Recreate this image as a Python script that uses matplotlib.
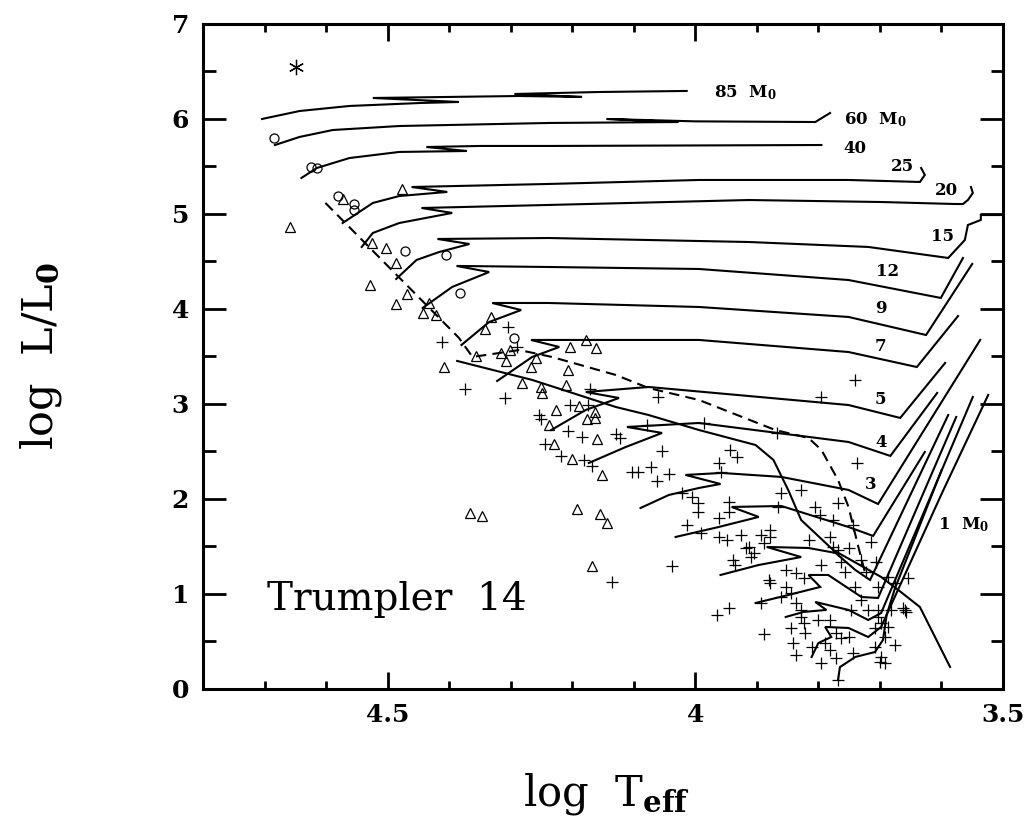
import matplotlib
matplotlib.use('Agg')
import matplotlib.pyplot as plt
from matplotlib.ticker import MultipleLocator

plt.rcParams['font.family'] = 'DejaVu Serif'
plt.rcParams['mathtext.fontset'] = 'dejavuserif'

# evolutionary tracks (log Teff, log L)
t85_x = [4.704, 4.643, 4.562, 4.448, 4.384, 4.524, 4.400, 4.286, 4.184, 4.294, 4.157, 4.014]
t85_y = [6.000, 6.084, 6.137, 6.168, 6.179, 6.221, 6.232, 6.242, 6.232, 6.263, 6.284, 6.295]
t60_x = [4.683, 4.643, 4.589, 4.481, 4.238, 4.027, 4.144, 4.000, 3.805, 3.781]
t60_y = [5.726, 5.811, 5.884, 5.926, 5.958, 5.968, 6.000, 5.975, 5.968, 6.063]
t40_x = [4.640, 4.615, 4.562, 4.481, 4.371, 4.437, 4.351, 4.238, 3.795]
t40_y = [5.379, 5.484, 5.589, 5.653, 5.663, 5.705, 5.716, 5.716, 5.726]
t25_x = [4.573, 4.524, 4.481, 4.403, 4.461, 4.238, 3.994, 3.751, 3.635, 3.627, 3.633]
t25_y = [4.905, 5.116, 5.189, 5.232, 5.284, 5.316, 5.358, 5.358, 5.337, 5.411, 5.484]
t20_x = [4.542, 4.524, 4.481, 4.395, 4.445, 4.238, 3.913, 3.698, 3.578, 3.565, 3.557, 3.549, 3.552]
t20_y = [4.653, 4.800, 4.905, 5.011, 5.063, 5.095, 5.147, 5.126, 5.105, 5.105, 5.147, 5.221, 5.284]
t15_x = [4.486, 4.453, 4.416, 4.367, 4.419, 4.238, 3.913, 3.719, 3.589, 3.562, 3.557, 3.536, 3.536, 3.503]
t15_y = [4.316, 4.516, 4.600, 4.684, 4.737, 4.747, 4.705, 4.653, 4.537, 4.726, 4.884, 4.937, 4.989, 4.989]
t12_x = [4.443, 4.395, 4.335, 4.388, 4.238, 3.994, 3.751, 3.601, 3.565]
t12_y = [4.011, 4.232, 4.389, 4.453, 4.442, 4.421, 4.305, 4.116, 4.537]
t9_x = [4.380, 4.335, 4.283, 4.330, 4.238, 3.994, 3.751, 3.625, 3.550]
t9_y = [3.621, 3.863, 3.989, 4.063, 4.063, 4.021, 3.916, 3.726, 4.474]
t7_x = [4.322, 4.265, 4.221, 4.267, 3.994, 3.751, 3.640, 3.573]
t7_y = [3.242, 3.495, 3.600, 3.674, 3.674, 3.547, 3.389, 3.926]
t5_x = [4.234, 4.178, 4.124, 4.178, 4.076, 3.751, 3.667, 3.594]
t5_y = [2.726, 2.937, 3.063, 3.126, 3.179, 2.989, 2.853, 3.432]
t4_x = [4.173, 4.113, 4.054, 4.111, 3.994, 3.751, 3.683, 3.607]
t4_y = [2.379, 2.547, 2.695, 2.758, 2.800, 2.600, 2.453, 3.116]
t3_x = [4.089, 4.043, 3.994, 3.959, 4.016, 3.957, 3.860, 3.751, 3.703, 3.537]
t3_y = [1.905, 2.042, 2.116, 2.158, 2.253, 2.274, 2.232, 2.095, 1.947, 3.674]
t25s_x = [4.032, 3.962, 3.897, 3.941, 3.860, 3.751, 3.711, 3.627]
t25s_y = [1.600, 1.705, 1.811, 1.916, 1.926, 1.705, 1.611, 2.495]
t2_x = [3.959, 3.897, 3.828, 3.884, 3.816, 3.772, 3.740, 3.716, 3.589]
t2_y = [1.200, 1.305, 1.389, 1.495, 1.484, 1.432, 1.253, 1.147, 2.884]
t15s_x = [3.902, 3.849, 3.797, 3.816, 3.784, 3.730, 3.703, 3.576]
t15s_y = [0.905, 0.989, 1.074, 1.200, 1.200, 0.968, 0.958, 2.863]
t12s_x = [3.853, 3.824, 3.787, 3.805, 3.751, 3.719, 3.698, 3.549]
t12s_y = [0.758, 0.811, 0.832, 0.916, 0.832, 0.726, 0.800, 3.074]
t1s_x = [3.811, 3.800, 3.779, 3.789, 3.751, 3.719, 3.698, 3.600, 3.560, 3.524]
t1s_y = [0.337, 0.484, 0.547, 0.653, 0.642, 0.547, 0.653, 2.050, 2.600, 3.095]
t08_x = [3.768, 3.765, 3.740, 3.708, 3.695, 3.689, 3.676, 3.600]
t08_y = [0.095, 0.230, 0.337, 0.389, 0.516, 0.780, 1.050, 2.300]

# isochrone (solid) and ZAMS-like line (dashed)
iso_x = [4.387, 4.265, 4.129, 4.076, 3.994, 3.902, 3.873, 3.849, 3.828, 3.776, 3.698, 3.666, 3.635, 3.586]
iso_y = [3.453, 3.253, 2.968, 2.884, 2.726, 2.568, 2.411, 2.095, 1.779, 1.463, 1.179, 1.021, 0.863, 0.232]
zams_x = [4.601, 4.384, 4.362, 4.340, 4.286, 4.233, 4.129, 4.076, 3.994, 3.870, 3.816, 3.795, 3.768, 3.751, 3.735, 3.724]
zams_y = [5.116, 3.695, 3.495, 3.516, 3.568, 3.495, 3.305, 3.168, 3.042, 2.726, 2.642, 2.516, 2.200, 1.916, 1.495, 1.221]

# stars
circ_x = [4.685, 4.625, 4.615, 4.580, 4.555, 4.555, 4.471, 4.405, 4.382, 4.294]
circ_y = [5.800, 5.495, 5.484, 5.189, 5.105, 5.042, 4.611, 4.568, 4.168, 3.695]

tri_x = [4.476, 4.659, 4.573, 4.526, 4.502, 4.486, 4.529, 4.469, 4.486, 4.443,
         4.432, 4.421, 4.332, 4.341, 4.408, 4.356, 4.315, 4.301, 4.307, 4.259,
         4.267, 4.204, 4.178, 4.161, 4.207, 4.281, 4.251, 4.249, 4.210, 4.226,
         4.189, 4.163, 4.176, 4.163, 4.238, 4.230, 4.160, 4.200, 4.152, 4.366,
         4.346, 4.192, 4.155, 4.144, 4.168]
tri_y = [5.263, 4.863, 5.158, 4.695, 4.642, 4.484, 4.253, 4.158, 4.053, 3.958,
         4.063, 3.937, 3.916, 3.789, 3.389, 3.505, 3.537, 3.568, 3.453, 3.484,
         3.389, 3.600, 3.674, 3.589, 3.358, 3.221, 3.179, 3.116, 3.200, 2.937,
         2.979, 2.916, 2.842, 2.853, 2.779, 2.579, 2.632, 2.421, 2.253, 1.853,
         1.821, 1.895, 1.842, 1.747, 1.295]

plus_x = [4.304, 4.411, 4.290, 4.374, 4.309, 4.171, 4.061, 4.254, 4.251, 4.204,
          4.174, 4.207, 4.184, 4.129, 4.123, 4.244, 4.218, 4.181, 4.168, 4.079,
          4.054, 4.103, 4.093, 4.072, 4.043, 4.063, 4.022, 4.006, 4.014, 4.038,
          4.136, 3.795, 3.740, 3.986, 3.868, 3.943, 3.933, 3.738, 3.962, 3.959,
          3.996, 3.996, 3.991, 3.962, 3.946, 3.946, 3.860, 3.828, 3.865, 3.805,
          3.797, 3.776, 3.768, 3.878, 3.743, 3.962, 3.949, 3.926, 3.913, 3.905,
          3.894, 3.889, 3.878, 3.938, 3.935, 3.917, 3.909, 3.816, 3.781, 3.776,
          3.768, 3.751, 3.714, 3.795, 3.764, 3.756, 3.730, 3.722, 3.706, 3.852,
          3.836, 3.824, 3.881, 3.878, 3.853, 3.845, 3.837, 3.828, 3.860, 3.894,
          3.687, 3.654, 3.675, 3.703, 3.740, 3.730, 3.747, 3.719, 3.703, 3.682,
          3.659, 3.965, 3.946, 3.889, 3.828, 3.824, 3.844, 3.821, 3.800, 3.781,
          3.772, 3.763, 3.789, 3.781, 3.772, 3.795, 3.811, 3.841, 3.837, 3.751,
          3.743, 3.708, 3.698, 3.703, 3.687, 3.691, 3.708, 3.675, 3.698, 3.691,
          3.768, 3.662, 3.657, 3.700]
plus_y = [3.811, 3.653, 3.600, 3.158, 3.063, 3.158, 3.074, 2.884, 2.842, 2.989,
          2.989, 2.716, 2.653, 2.684, 2.642, 2.579, 2.453, 2.411, 2.347, 2.779,
          2.505, 2.284, 2.284, 2.337, 2.263, 2.189, 2.063, 2.021, 1.726, 1.295,
          1.126, 3.074, 3.253, 2.800, 2.695, 2.516, 2.442, 2.379, 2.379, 2.284,
          1.958, 1.863, 1.642, 1.800, 1.968, 1.863, 2.063, 2.095, 1.916, 1.916,
          1.832, 1.779, 1.958, 1.674, 1.726, 1.600, 1.568, 1.621, 1.495, 1.432,
          1.621, 1.537, 1.600, 1.358, 1.305, 1.484, 1.389, 1.568, 1.600, 1.495,
          1.463, 1.484, 1.547, 1.305, 1.337, 1.232, 1.358, 1.232, 1.337, 1.253,
          1.221, 1.168, 1.147, 1.116, 1.074, 1.011, 0.905, 0.832, 0.968, 0.905,
          1.179, 1.168, 1.116, 1.074, 1.074, 0.937, 0.832, 0.832, 0.832, 0.832,
          0.832, 0.779, 0.853, 0.579, 0.758, 0.695, 0.642, 0.589, 0.726, 0.726,
          0.589, 0.537, 0.484, 0.411, 0.326, 0.274, 0.442, 0.484, 0.358, 0.547,
          0.379, 0.642, 0.695, 0.758, 0.653, 0.547, 0.442, 0.463, 0.337, 0.274,
          0.095, 0.853, 0.811, 0.284]

star_x = [4.649]
star_y = [6.547]

track_labels = ['85  M$_\\mathbf{0}$', '60  M$_\\mathbf{0}$', '40', '25', '20', '15',
                '12', '9', '7', '5', '4', '3', '1  M$_\\mathbf{0}$']
label_x = [3.970, 3.759, 3.759, 3.682, 3.610, 3.617, 3.706, 3.708, 3.708, 3.708, 3.708, 3.725, 3.605]
label_y = [6.28, 5.99, 5.69, 5.50, 5.25, 4.76, 4.39, 4.01, 3.60, 3.05, 2.59, 2.15, 1.73]

fig = plt.figure(figsize=(10.34, 8.27), dpi=100)
ax = fig.add_axes([0.1963, 0.1669, 0.7737, 0.8041])

tracks = [(t85_x, t85_y), (t60_x, t60_y), (t40_x, t40_y), (t25_x, t25_y),
          (t20_x, t20_y), (t15_x, t15_y), (t12_x, t12_y), (t9_x, t9_y),
          (t7_x, t7_y), (t5_x, t5_y), (t4_x, t4_y), (t3_x, t3_y),
          (t25s_x, t25s_y), (t2_x, t2_y), (t15s_x, t15s_y), (t12s_x, t12s_y),
          (t1s_x, t1s_y), (t08_x, t08_y)]
for tx, ty in tracks:
    ax.plot(tx, ty, color='black', lw=1.5, solid_joinstyle='miter')

ax.plot(iso_x, iso_y, color='black', lw=1.5)
ax.plot(zams_x, zams_y, color='black', lw=1.5, dashes=(5, 3))

ax.plot(plus_x, plus_y, ls='none', marker='+', ms=8, mew=0.9, color='black')
ax.plot(tri_x, tri_y, ls='none', marker='^', ms=7.5, mew=0.9, mfc='none', mec='black')
ax.plot(circ_x, circ_y, ls='none', marker='o', ms=6.5, mew=0.9, mfc='none', mec='black')
ax.plot(star_x, star_y, ls='none', marker=(6, 2, 0), ms=11, mew=0.9, color='black')

for s, lx, ly in zip(track_labels, label_x, label_y):
    ax.text(lx, ly, s, fontsize=12, fontweight='bold', ha='left', va='center')

ax.text(4.696, 0.83, 'Trumpler  14', fontsize=28, ha='left', va='baseline')

ax.set_xlim(4.8, 3.5)
ax.set_ylim(0, 7)
ax.set_xticks([4.5, 4.0, 3.5])
ax.set_xticklabels(['4.5', '4', '3.5'])
ax.set_yticks(range(8))
ax.set_yticklabels([str(i) for i in range(8)])
ax.xaxis.set_minor_locator(MultipleLocator(0.1))
ax.yaxis.set_minor_locator(MultipleLocator(0.5))

ax.tick_params(which='both', direction='in', top=True, right=True, width=2)
ax.tick_params(axis='x', which='major', length=12, pad=10)
ax.tick_params(axis='x', which='minor', length=6)
ax.tick_params(axis='y', which='major', length=16.5, pad=10)
ax.tick_params(axis='y', which='minor', length=9)
for lab in ax.get_xticklabels() + ax.get_yticklabels():
    lab.set_fontsize(18)
    lab.set_fontweight('bold')
for sp in ax.spines.values():
    sp.set_linewidth(2.2)

fig.text(0.586, 0.04, 'log  T$_{\\mathbf{eff}}$', fontsize=30, ha='center', va='center')
fig.text(0.04, 0.57, 'log  L/L$_{\\mathbf{0}}$', fontsize=31, ha='center', va='center',
         rotation=90)

fig.savefig('out.png', dpi=100, facecolor='white')
